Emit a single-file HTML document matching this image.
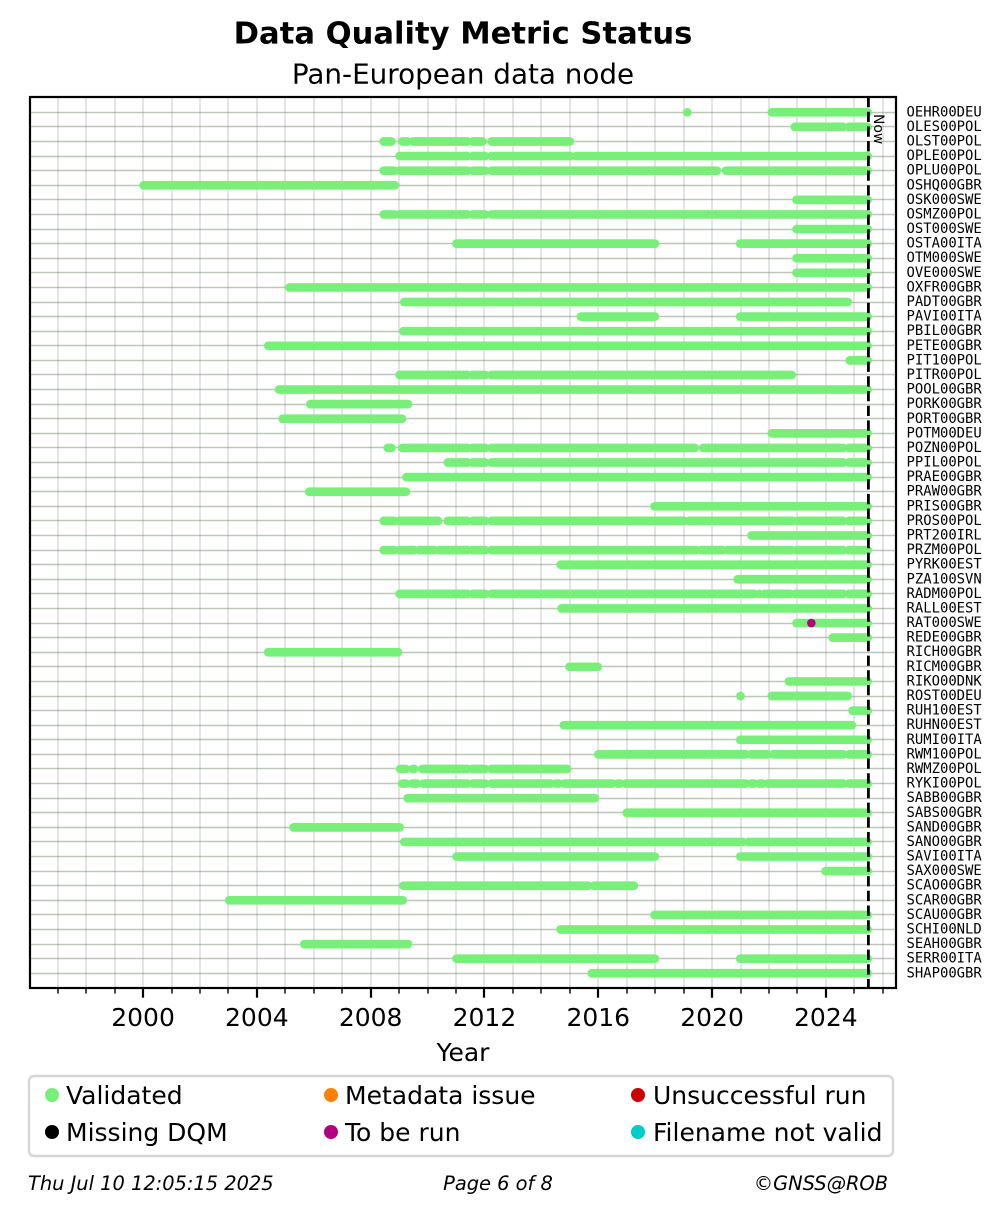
<!DOCTYPE html>
<html lang="en">
<head>
<meta charset="utf-8">
<title>Data Quality Metric Status</title>
<style>
html,body{margin:0;padding:0;background:#fff;}
svg{display:block;}
text{font-family:"DejaVu Sans","Liberation Sans",sans-serif;fill:#000;}
.mono{font-family:"DejaVu Sans Mono","Liberation Mono",monospace;font-size:13.9px;}
.leg{font-size:25px;}
.foot{font-size:19.4px;font-style:italic;}
</style>
</head>
<body>
<svg id="chart" xmlns="http://www.w3.org/2000/svg" width="1001" height="1214" viewBox="0 0 1001 1214">
  <rect x="0" y="0" width="1001" height="1214" fill="#fff"/>
  <text x="463" y="43.5" text-anchor="middle" font-size="30.6" font-weight="bold">Data Quality Metric Status</text>
  <text x="463" y="83.5" text-anchor="middle" font-size="27.8">Pan-European data node</text>
  <g id="grid"></g>
  <g id="bars"></g>
  <g id="points"></g>
  <line x1="868.4" y1="97" x2="868.4" y2="988" stroke="#000" stroke-width="2.8" stroke-dasharray="10.3 4.4"/>
  <text transform="translate(874,114) rotate(90)" font-size="13.9">Now</text>
  <rect x="30" y="97" width="866" height="891" fill="none" stroke="#000" stroke-width="2.2"/>
  <g id="xaxis"></g>
  <g id="ylabels"></g>
  <text x="463" y="1061" text-anchor="middle" font-size="25">Year</text>

  <g>
    <rect x="29" y="1076" width="864" height="80" rx="5" ry="5" fill="#fff" stroke="#d6d6d6" stroke-width="2.4"/>
    <g><circle cx="52" cy="1095" r="7" fill="#78ef78"/><text class="leg" x="66" y="1104">Validated</text></g>
    <g><circle cx="52" cy="1132" r="7" fill="#000"/><text class="leg" x="66" y="1141">Missing DQM</text></g>
    <g><circle cx="331" cy="1095" r="7" fill="#ff8000"/><text class="leg" x="345" y="1104">Metadata issue</text></g>
    <g><circle cx="331" cy="1132" r="7" fill="#b3007e"/><text class="leg" x="345" y="1141">To be run</text></g>
    <g><circle cx="638" cy="1095" r="7" fill="#cc0000"/><text class="leg" x="653" y="1104">Unsuccessful run</text></g>
    <g><circle cx="638" cy="1132" r="7" fill="#00cccc"/><text class="leg" x="653" y="1141">Filename not valid</text></g>
  </g>

  <text class="foot" x="28" y="1190">Thu Jul 10 12:05:15 2025</text>
  <text class="foot" x="498" y="1190" text-anchor="middle">Page 6 of 8</text>
  <text class="foot" x="888" y="1190" text-anchor="end">©GNSS@ROB</text>
</svg>
<script>
const stations = ["OEHR00DEU","OLES00POL","OLST00POL","OPLE00POL","OPLU00POL","OSHQ00GBR","OSK000SWE","OSMZ00POL","OST000SWE","OSTA00ITA","OTM000SWE","OVE000SWE","OXFR00GBR","PADT00GBR","PAVI00ITA","PBIL00GBR","PETE00GBR","PIT100POL","PITR00POL","POOL00GBR","PORK00GBR","PORT00GBR","POTM00DEU","POZN00POL","PPIL00POL","PRAE00GBR","PRAW00GBR","PRIS00GBR","PROS00POL","PRT200IRL","PRZM00POL","PYRK00EST","PZA100SVN","RADM00POL","RALL00EST","RAT000SWE","REDE00GBR","RICH00GBR","RICM00GBR","RIKO00DNK","ROST00DEU","RUH100EST","RUHN00EST","RUMI00ITA","RWM100POL","RWMZ00POL","RYKI00POL","SABB00GBR","SABS00GBR","SAND00GBR","SANO00GBR","SAVI00ITA","SAX000SWE","SCAO00GBR","SCAR00GBR","SCAU00GBR","SCHI00NLD","SEAH00GBR","SERR00ITA","SHAP00GBR"];
const validatedSegments = [
[[2019.13,2019.13],[2022.10,2025.47]],
[[2022.91,2024.61],[2024.81,2025.47]],
[[2008.46,2008.73],[2009.11,2009.29],[2009.49,2011.40],[2011.58,2011.93],[2012.25,2015.00]],
[[2009.02,2011.40],[2011.58,2012.03],[2012.25,2015.02],[2015.22,2025.47]],
[[2008.46,2008.83],[2009.01,2011.40],[2011.58,2012.03],[2012.25,2020.17],[2020.49,2025.47]],
[[2000.02,2008.85]],
[[2022.97,2025.47]],
[[2008.46,2008.83],[2009.01,2011.40],[2011.58,2012.03],[2012.25,2025.47]],
[[2022.97,2025.47]],
[[2011.02,2017.99],[2020.99,2025.47]],
[[2022.97,2025.47]],
[[2022.97,2025.47]],
[[2005.14,2025.47]],
[[2009.18,2024.77]],
[[2015.39,2017.99],[2020.99,2025.47]],
[[2009.15,2025.47]],
[[2004.40,2025.47]],
[[2024.84,2025.47]],
[[2009.02,2011.40],[2011.58,2012.03],[2012.25,2022.80]],
[[2004.78,2025.47]],
[[2005.88,2009.31]],
[[2004.91,2009.10]],
[[2022.10,2025.47]],
[[2008.60,2008.73],[2009.11,2011.40],[2011.58,2012.03],[2012.25,2019.39],[2019.69,2024.61],[2024.81,2025.47]],
[[2010.71,2011.40],[2011.58,2012.03],[2012.25,2024.61],[2024.81,2025.47]],
[[2009.26,2025.47]],
[[2005.84,2009.24]],
[[2017.98,2025.47]],
[[2008.46,2008.83],[2009.01,2010.37],[2010.71,2011.40],[2011.58,2012.03],[2012.25,2019.02],[2019.20,2022.83],[2023.01,2024.61],[2024.81,2025.47]],
[[2021.39,2025.47]],
[[2008.46,2008.83],[2009.01,2009.53],[2009.71,2010.23],[2010.41,2011.40],[2011.58,2012.03],[2012.25,2019.43],[2019.61,2020.37],[2020.55,2022.79],[2022.97,2024.61],[2024.81,2025.47]],
[[2014.68,2025.47]],
[[2020.90,2025.47]],
[[2009.02,2011.40],[2011.58,2012.03],[2012.25,2021.48],[2021.66,2021.66],[2021.84,2022.75],[2022.93,2024.61],[2024.81,2025.47]],
[[2014.71,2025.47]],
[[2022.97,2025.47]],
[[2024.24,2025.47]],
[[2004.40,2008.96]],
[[2014.99,2015.98]],
[[2022.70,2025.47]],
[[2021.00,2021.00],[2022.10,2024.77]],
[[2024.94,2025.47]],
[[2014.79,2024.91]],
[[2020.99,2025.47]],
[[2016.00,2021.19],[2021.37,2021.97],[2022.15,2024.61],[2024.81,2025.47]],
[[2009.04,2009.24],[2009.48,2009.53],[2009.82,2011.40],[2011.58,2012.03],[2012.25,2014.90]],
[[2009.11,2009.25],[2009.47,2009.62],[2009.86,2011.40],[2011.58,2012.03],[2012.25,2014.33],[2014.51,2014.62],[2014.80,2016.50],[2016.68,2016.77],[2016.95,2021.19],[2021.37,2021.48],[2021.66,2021.77],[2021.95,2024.61],[2024.81,2025.47]],
[[2009.30,2015.88]],
[[2017.00,2025.47]],
[[2005.29,2009.02]],
[[2009.18,2021.08],[2021.28,2025.47]],
[[2011.02,2017.99],[2020.99,2025.47]],
[[2023.99,2025.47]],
[[2009.15,2015.64],[2015.84,2017.25]],
[[2003.03,2009.13]],
[[2017.98,2025.47]],
[[2014.68,2025.47]],
[[2005.67,2009.31]],
[[2011.02,2017.99],[2020.99,2025.47]],
[[2015.77,2025.47]]
];
const toBeRunStations = ["RAT000SWE"];
const toBeRunYears = [2023.49];
const majorTickYears = [2000,2004,2008,2012,2016,2020,2024];
const minorTickYears = [1997,1998,1999,2001,2002,2003,2005,2006,2007,2009,2010,2011,2013,2014,2015,2017,2018,2019,2021,2022,2023,2025,2026];

const NS = "http://www.w3.org/2000/svg";
function xPos(year){ return 143.05 + (year - 2000) * 28.45; }
function yPos(row){ return 112.3 + row * 14.593; }
function make(tag, attrs, parent){
  const el = document.createElementNS(NS, tag);
  for (const k in attrs) el.setAttribute(k, attrs[k]);
  parent.appendChild(el);
  return el;
}
const grid = document.getElementById("grid");
const bars = document.getElementById("bars");
const points = document.getElementById("points");
const xaxis = document.getElementById("xaxis");
const ylabels = document.getElementById("ylabels");

majorTickYears.concat(minorTickYears).sort((a,b)=>a-b).forEach(function(year){
  const gx = Math.round(xPos(year));
  const line = make("line", {x1:gx, y1:97, x2:gx, y2:988, stroke:"#e4e4e4", "stroke-width":2}, grid);
  
  
});
stations.forEach(function(name, i){
  const gy = Math.floor(yPos(i)) + 0.5;
  const line = make("line", {x1:30, y1:gy, x2:896, y2:gy, stroke:"rgba(100,120,85,0.42)", "stroke-width":1.4}, grid);
  
  
  const label = make("text", {x:906.5, y:yPos(i)+4, "class":"mono"}, ylabels);
  label.textContent = name;
  
  
});
validatedSegments.forEach(function(segs, i){
  segs.forEach(function(seg){
    const bar = make("line", {x1:xPos(seg[0]), y1:yPos(i), x2:xPos(seg[1])+0.01, y2:yPos(i), stroke:"#78ef78", "stroke-width":8.7, "stroke-linecap":"round"}, bars);
    
    
  });
});
toBeRunStations.forEach(function(name, i){
  const dot = make("circle", {cx:xPos(toBeRunYears[i]), cy:yPos(stations.indexOf(name)), r:4.3, fill:"#b3007e"}, points);
  
  
});
minorTickYears.forEach(function(year){
  const tx = Math.round(xPos(year));
  const tick = make("line", {x1:tx, y1:988, x2:tx, y2:993.6, stroke:"#000", "stroke-width":1.4}, xaxis);
  
  
});
majorTickYears.forEach(function(year){
  const tx = Math.round(xPos(year));
  const tick = make("line", {x1:tx, y1:988, x2:tx, y2:997.7, stroke:"#000", "stroke-width":2.2}, xaxis);
  
  
  const label = make("text", {x:xPos(year), y:1026, "text-anchor":"middle", "font-size":25}, xaxis);
  label.textContent = String(year);
  
  
});
</script>
</body>
</html>
